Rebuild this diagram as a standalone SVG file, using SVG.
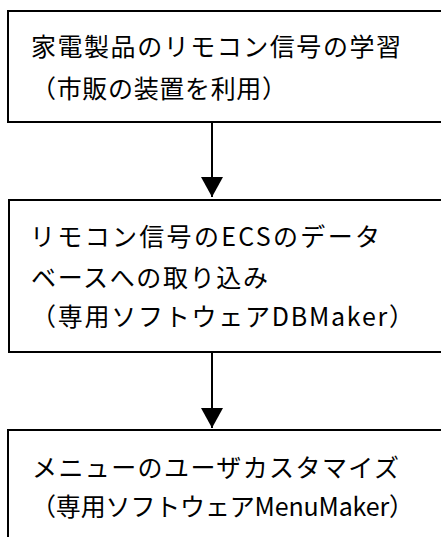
<svg xmlns="http://www.w3.org/2000/svg" width="441" height="537" viewBox="0 0 441 537">
<style>
.box{fill:#fff;stroke:#000;stroke-width:2}
.t{font-family:"Noto Sans CJK JP","Noto Sans",sans-serif;font-size:25px;fill:#000}
.ln{stroke:#000;stroke-width:2;fill:none}
</style>
<defs>
<marker id="ah" viewBox="0 0 20 22" refX="20" refY="11" markerWidth="20" markerHeight="22" markerUnits="userSpaceOnUse" orient="auto">
<path d="M0,0 L20,11 L0,22 Z" fill="#000"/>
</marker>
</defs>
<rect width="441" height="537" fill="#fff"/>
<g id="node1">
<rect class="box" x="8" y="11" width="450" height="111"/>
<text class="t" x="31" y="56" textLength="370" lengthAdjust="spacing">家電製品のリモコン信号の学習</text>
<text class="t" x="31" y="98" textLength="256" lengthAdjust="spacing">（市販の装置を利用）</text>
</g>
<g id="node2">
<rect class="box" x="9" y="200" width="450" height="152"/>
<text class="t" x="30" y="246" textLength="350" lengthAdjust="spacing">リモコン信号のECSのデータ</text>
<text class="t" x="31" y="287" textLength="237" lengthAdjust="spacing">ベースへの取り込み</text>
<text class="t" x="31" y="326" textLength="383" lengthAdjust="spacing">（専用ソフトウェアDBMaker）</text>
</g>
<g id="node3">
<rect class="box" x="8" y="430" width="450" height="120"/>
<text class="t" x="32" y="477" textLength="367" lengthAdjust="spacing">メニューのユーザカスタマイズ</text>
<text class="t" x="31" y="516" textLength="383" lengthAdjust="spacing">（専用ソフトウェアMenuMaker）</text>
</g>
<g id="connectors">
<line class="ln" x1="212" y1="122" x2="212" y2="197" marker-end="url(#ah)"/>
<line class="ln" x1="212" y1="352" x2="212" y2="428" marker-end="url(#ah)"/>
</g>
</svg>
